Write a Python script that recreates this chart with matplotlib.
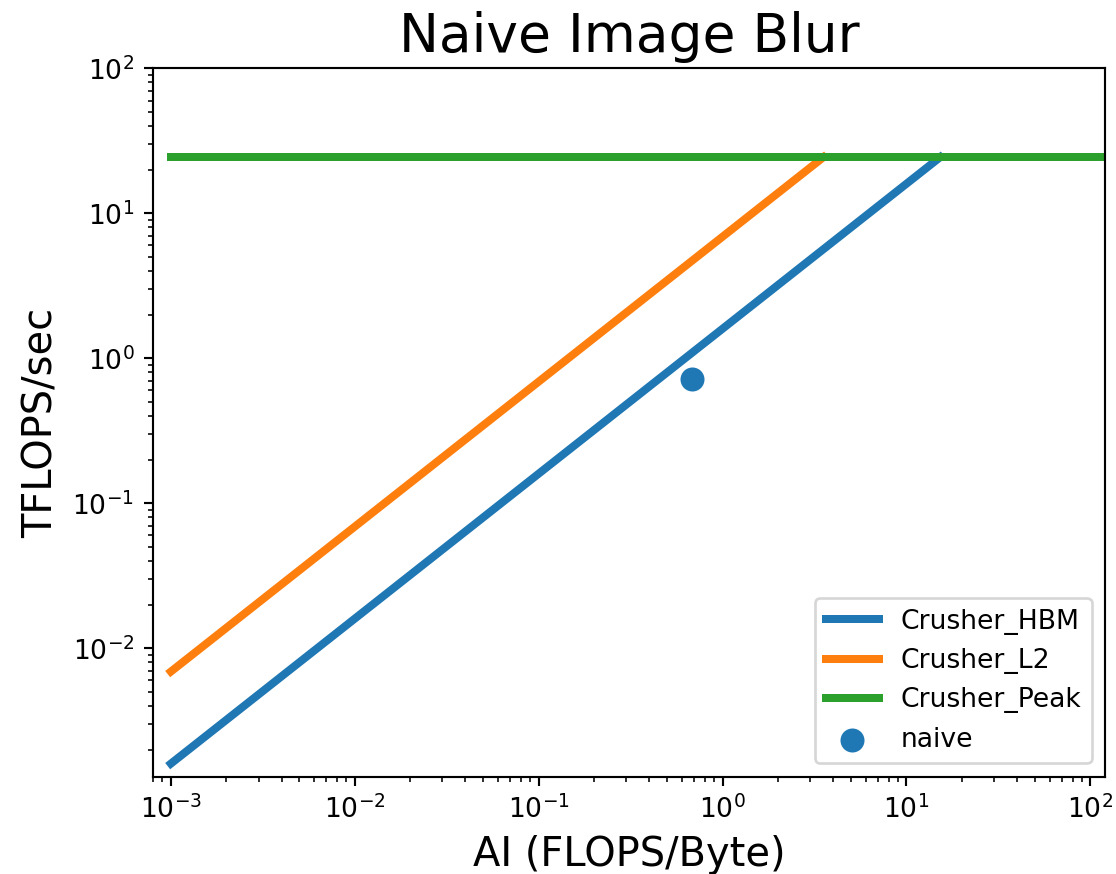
import numpy as np
import matplotlib
matplotlib.use("Agg")
import matplotlib.pyplot as plt

# Machine ceilings (TB/s for bandwidths, TFLOPS/sec for compute peak)
machine = "Crusher"
bandwidth_names = ["HBM", "L2"]
bandwidths = [1.6, 6.9]
peak_tflops = 24.4

# Measured kernels: arithmetic intensity (FLOPS/Byte) and achieved TFLOPS/sec
kernel_names = ["naive"]
kernel_ai = [0.68]
kernel_perf = [0.72]

ai_min, ai_max = 1e-3, 120

fig = plt.figure(figsize=(1116 / 192, 874 / 192), dpi=192)
ax = fig.add_axes([0.1371, 0.1113, 0.8530, 0.8105])

colors = ["C0", "C1"]
for name, bw, c in zip(bandwidth_names, bandwidths, colors):
    ridge = peak_tflops / bw
    x = np.array([ai_min, ridge])
    ax.plot(x, bw * x, color=c, linewidth=3, label=f"{machine}_{name}")

ax.plot([ai_min, ai_max], [peak_tflops, peak_tflops], color="C2", linewidth=3,
        label=f"{machine}_Peak")

for name, a, p in zip(kernel_names, kernel_ai, kernel_perf):
    ax.scatter([a], [p], s=64, color="C0", label=name, zorder=3)

ax.set_xscale("log")
ax.set_yscale("log")
ax.set_xlim(8e-4, ai_max)
ax.set_ylim(1.3e-3, 100)

ax.set_title("Naive Image Blur", fontsize=20)
ax.set_xlabel("AI (FLOPS/Byte)", fontsize=15)
ax.set_ylabel("TFLOPS/sec", fontsize=15)
ax.legend(loc="lower right")

fig.savefig("out.png", dpi=192)
